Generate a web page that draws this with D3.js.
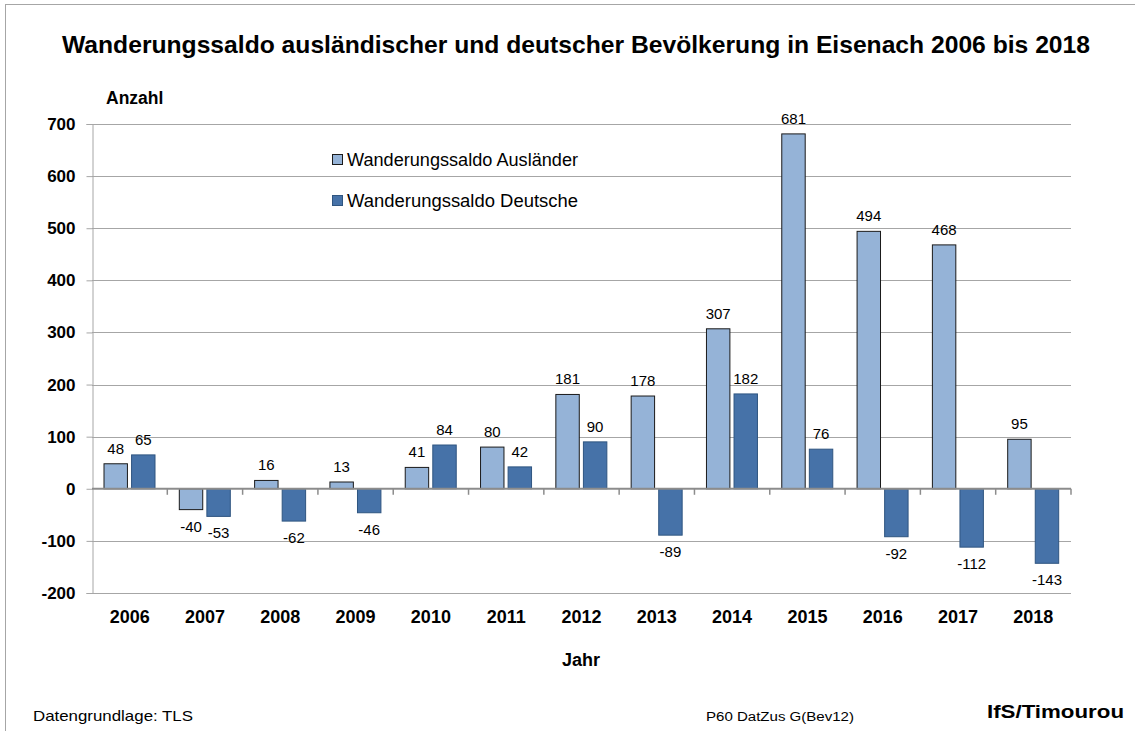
<!DOCTYPE html>
<html>
<head>
<meta charset="utf-8">
<script src="https://cdn.jsdelivr.net/npm/d3@7"></script>
<style>
  body { margin: 0; background: #fff; }
  svg { font-family: Arial, "Liberation Sans", sans-serif; }
</style>
</head>
<body>
<div id="chart"></div>
<script>
// chart data
var years = ['2006','2007','2008','2009','2010','2011','2012','2013','2014','2015','2016','2017','2018'];
var auslaender = [48, -40, 16, 13, 41, 80, 181, 178, 307, 681, 494, 468, 95];
var deutsche = [65, -53, -62, -46, 84, 42, 90, -89, 182, 76, -92, -112, -143];
var seriesNames = ['Wanderungssaldo Ausländer', 'Wanderungssaldo Deutsche'];
var yTicks = [-200, -100, 0, 100, 200, 300, 400, 500, 600, 700];

var width = 1135, height = 731;
var plotLeft = 92, plotRight = 1071, plotTop = 124, plotBottom = 593;
var lightFill = '#95B3D7', darkFill = '#4672A8';

var svg = d3.select('#chart').append('svg')
  .attr('width', width)
  .attr('height', height);

// outer frame
svg.append('rect')
  .attr('x', 5.5).attr('y', 4.5)
  .attr('width', 1140).attr('height', 740)
  .attr('fill', 'none')
  .attr('stroke', '#a6a6a6');

var x = d3.scaleBand().domain(years).range([plotLeft, plotRight]);
var y = d3.scaleLinear().domain([-200, 700]).range([plotBottom, plotTop]);

// gridlines
svg.append('g').selectAll('line')
  .data(yTicks.filter(function(d){ return d !== 0; }))
  .enter().append('line')
  .attr('x1', plotLeft).attr('x2', plotRight)
  .attr('y1', function(d){ return Math.round(y(d)) + 0.5; })
  .attr('y2', function(d){ return Math.round(y(d)) + 0.5; })
  .attr('stroke', '#a6a6a6');

// y axis (plain hyphen for negatives, like the original)
var yAxis = svg.append('g')
  .attr('transform', 'translate(' + (plotLeft + 0.5) + ',0)')
  .call(d3.axisLeft(y).tickValues(yTicks).tickSize(6).tickPadding(11)
    .tickFormat(function(d){ return String(d); }));
yAxis.select('.domain').attr('stroke', '#a6a6a6');
yAxis.selectAll('.tick line').attr('stroke', '#a6a6a6');
yAxis.selectAll('.tick text')
  .attr('font-size', 17).attr('font-weight', 'bold')
  .attr('font-family', 'Arial, "Liberation Sans", sans-serif')
  .attr('fill', '#000');

// bars
var inner = d3.scaleBand().domain([0, 1]).range([12, 63]).paddingInner(0.15);
var series = [auslaender, deutsche];
var fills = [lightFill, darkFill];
var strokes = ['#1a1a1a', '#2f5580'];

series.forEach(function(vals, si) {
  var g = svg.append('g');
  g.selectAll('rect').data(vals).enter().append('rect')
    .attr('x', function(d, i){ return x(years[i]) + inner(si); })
    .attr('width', inner.bandwidth())
    .attr('y', function(d){ return y(Math.max(0, d)); })
    .attr('height', function(d){ return Math.abs(y(d) - y(0)); })
    .attr('fill', fills[si])
    .attr('stroke', strokes[si])
    .attr('stroke-width', 1);
  g.selectAll('text').data(vals).enter().append('text')
    .attr('x', function(d, i){ return x(years[i]) + inner(si) + inner.bandwidth() / 2; })
    .attr('y', function(d){ return d >= 0 ? y(d) - 10 : y(d) + 22; })
    .attr('text-anchor', 'middle')
    .attr('font-size', 15)
    .text(function(d){ return d; });
});

// zero axis with category ticks
var xAxis = svg.append('g')
  .attr('transform', 'translate(0,' + y(0) + ')');
xAxis.append('line')
  .attr('x1', plotLeft).attr('x2', plotRight)
  .attr('stroke', '#8c8c8c').attr('stroke-width', 2);
xAxis.selectAll('.cat-tick')
  .data(years.slice(1).concat(['end']))
  .enter().append('line')
  .attr('x1', function(d){ return d === 'end' ? plotRight : x(d); })
  .attr('x2', function(d){ return d === 'end' ? plotRight : x(d); })
  .attr('y1', 0).attr('y2', 6)
  .attr('stroke', '#8c8c8c').attr('stroke-width', 1.5);

// year labels
svg.append('g').selectAll('text').data(years).enter().append('text')
  .attr('x', function(d){ return x(d) + x.bandwidth() / 2; })
  .attr('y', 623)
  .attr('text-anchor', 'middle')
  .attr('font-size', 18).attr('font-weight', 'bold')
  .text(function(d){ return d; });

// titles
svg.append('text')
  .attr('x', 576).attr('y', 53)
  .attr('text-anchor', 'middle')
  .attr('font-size', 24).attr('font-weight', 'bold')
  .attr('textLength', 1028).attr('lengthAdjust', 'spacingAndGlyphs')
  .text('Wanderungssaldo ausländischer und deutscher Bevölkerung in Eisenach 2006 bis 2018');
svg.append('text')
  .attr('x', 106).attr('y', 104)
  .attr('font-size', 17.5).attr('font-weight', 'bold')
  .text('Anzahl');
svg.append('text')
  .attr('x', 581).attr('y', 666)
  .attr('text-anchor', 'middle')
  .attr('font-size', 18).attr('font-weight', 'bold')
  .text('Jahr');

// legend
var legend = svg.append('g');
seriesNames.forEach(function(name, i) {
  var ly = 154 + i * 41;
  legend.append('rect')
    .attr('x', 332.5).attr('y', ly + 0.5)
    .attr('width', 10).attr('height', 10)
    .attr('fill', fills[i])
    .attr('stroke', strokes[i]);
  legend.append('text')
    .attr('x', 347).attr('y', ly + 12)
    .attr('font-size', 17.5)
    .attr('textLength', 231).attr('lengthAdjust', 'spacingAndGlyphs')
    .text(name);
});

// footer
svg.append('text')
  .attr('x', 33).attr('y', 721)
  .attr('font-size', 15)
  .attr('textLength', 160).attr('lengthAdjust', 'spacingAndGlyphs')
  .text('Datengrundlage: TLS');
svg.append('text')
  .attr('x', 706).attr('y', 721)
  .attr('font-size', 12)
  .attr('textLength', 148).attr('lengthAdjust', 'spacingAndGlyphs')
  .text('P60 DatZus G(Bev12)');
svg.append('text')
  .attr('x', 987).attr('y', 718)
  .attr('font-size', 18).attr('font-weight', 'bold')
  .attr('textLength', 137).attr('lengthAdjust', 'spacingAndGlyphs')
  .text('IfS/Timourou');
</script>
</body>
</html>
